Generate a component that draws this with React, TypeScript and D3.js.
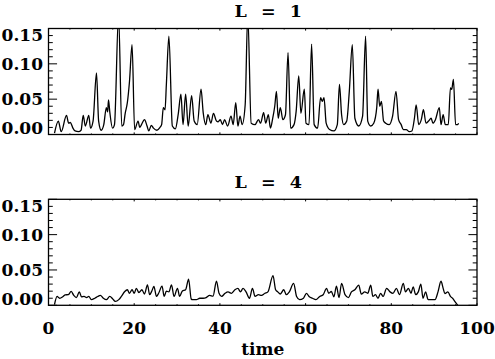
import React from "react";
import * as d3 from "d3";

const W = 495;
const H = 359;

// L = 1 series
const timeL1 = [1.4, 2.3, 2.96, 4.2, 4.7, 5.1, 5.7, 6.2, 7.0, 7.6, 8.1, 8.6, 9.4, 9.8, 10.4, 11.2, 11.7, 12.3, 12.9, 13.5, 13.8, 14.0, 14.3, 14.95, 15.4, 16.35, 17.1, 17.5, 17.9, 18.4, 18.9, 19.5, 20.1, 20.9, 21.3, 21.7, 22.4, 23.0, 23.4, 24.0, 24.5, 25.3, 26.0, 26.4, 26.8, 27.2, 27.5, 28.1, 28.9, 29.6, 30.3, 30.9, 31.4, 32.0, 32.6, 33.4, 34.0, 34.7, 35.6, 36.1, 36.7, 37.2, 37.9, 38.5, 39.2, 39.6, 40.1, 40.6, 41.1, 41.8, 42.6, 43.1, 43.7, 44.2, 44.7, 45.2, 45.9, 46.5, 47.3, 48.2, 49.0, 49.5, 50.2, 50.7, 51.3, 51.8, 52.3, 52.8, 53.2, 53.6, 54.1, 54.7, 55.3, 55.9, 56.5, 57.3, 57.8, 58.4, 58.9, 59.7, 60.1, 60.8, 61.4, 62.0, 62.8, 63.5, 63.9, 64.3, 64.8, 65.6, 66.6, 67.4, 67.9, 68.4, 68.9, 69.6, 70.2, 70.9, 71.5, 72.4, 73.3, 74.0, 74.5, 75.2, 75.9, 76.6, 76.9, 77.3, 77.7, 78.2, 78.7, 79.5, 80.3, 81.1, 81.7, 82.3, 82.8, 83.5, 84.2, 84.8, 85.4, 85.8, 86.4, 87.0, 87.5, 88.1, 88.7, 89.3, 89.7, 90.3, 91.2, 91.6, 92.1, 92.6, 93.3, 93.8, 94.1, 94.5, 95.0, 95.5, 95.7];
const valL1 = [0.002, 0.019, 0.004, 0.027, 0.016, 0.017, 0.009, 0.005, 0.004, 0.006, 0.027, 0.012, 0.027, 0.009, 0.019, 0.087, 0.019, 0.006, 0.014, 0.038, 0.032, 0.049, 0.032, 0.009, 0.014, 0.17, 0.012, 0.014, 0.03, 0.045, 0.075, 0.127, 0.007, 0.019, 0.01, 0.014, 0.021, 0.012, 0.005, 0.013, 0.009, 0.006, 0.01, 0.014, 0.038, 0.035, 0.07, 0.139, 0.012, 0.008, 0.03, 0.057, 0.014, 0.057, 0.012, 0.055, 0.019, 0.014, 0.064, 0.031, 0.014, 0.028, 0.016, 0.03, 0.019, 0.018, 0.021, 0.014, 0.021, 0.012, 0.026, 0.014, 0.045, 0.012, 0.026, 0.014, 0.042, 0.17, 0.016, 0.014, 0.021, 0.016, 0.031, 0.016, 0.028, 0.009, 0.022, 0.04, 0.061, 0.023, 0.038, 0.021, 0.028, 0.116, 0.009, 0.014, 0.033, 0.083, 0.03, 0.064, 0.016, 0.014, 0.128, 0.014, 0.009, 0.052, 0.047, 0.052, 0.016, 0.007, 0.005, 0.014, 0.071, 0.028, 0.014, 0.019, 0.061, 0.127, 0.023, 0.012, 0.026, 0.139, 0.019, 0.012, 0.016, 0.038, 0.064, 0.04, 0.047, 0.019, 0.016, 0.014, 0.026, 0.061, 0.021, 0.014, 0.007, 0.007, 0.004, 0.005, 0.023, 0.042, 0.014, 0.021, 0.035, 0.016, 0.019, 0.023, 0.016, 0.021, 0.038, 0.014, 0.028, 0.014, 0.014, 0.066, 0.064, 0.078, 0.014, 0.014, 0.016];

// L = 4 series
const timeL4 = [1.4, 2.0, 2.6, 3.4, 3.9, 4.6, 5.3, 5.9, 6.5, 7.2, 7.7, 8.3, 8.9, 9.4, 10.0, 10.8, 11.5, 12.1, 12.8, 13.5, 14.3, 15.0, 15.6, 16.4, 17.0, 17.8, 18.4, 18.9, 19.5, 20.0, 20.5, 21.1, 21.8, 22.4, 23.1, 23.6, 24.1, 24.6, 25.2, 25.7, 26.5, 27.0, 27.5, 28.1, 28.7, 29.3, 30.1, 30.6, 31.2, 32.0, 32.7, 33.3, 33.6, 34.5, 35.3, 36.1, 36.8, 37.6, 38.4, 39.2, 39.8, 40.4, 41.2, 41.9, 42.7, 43.5, 44.2, 44.8, 45.4, 46.1, 46.9, 47.6, 48.2, 49.0, 49.7, 50.5, 51.2, 52.4, 53.0, 53.5, 54.1, 54.9, 55.5, 56.2, 57.2, 57.9, 58.6, 59.5, 60.2, 60.8, 61.6, 62.4, 63.3, 64.1, 64.9, 65.4, 66.0, 66.6, 67.2, 67.8, 68.4, 69.2, 70.0, 70.7, 71.5, 72.4, 73.0, 73.8, 74.5, 75.2, 75.7, 76.3, 76.9, 77.5, 78.1, 78.9, 79.7, 80.4, 81.2, 81.9, 82.8, 83.3, 84.0, 84.6, 85.1, 85.7, 86.3, 86.9, 87.4, 88.0, 88.6, 89.4, 90.2, 90.9, 91.6, 92.1, 92.5, 93.2, 93.8, 94.3, 94.9, 95.5];
const valL4 = [0.001, 0.0125, 0.01, 0.0125, 0.0148, 0.015, 0.0196, 0.014, 0.011, 0.019, 0.012, 0.0125, 0.011, 0.0125, 0.008, 0.01, 0.0125, 0.014, 0.01, 0.008, 0.0125, 0.009, 0.0055, 0.008, 0.0125, 0.0196, 0.022, 0.017, 0.022, 0.017, 0.024, 0.018, 0.022, 0.016, 0.029, 0.015, 0.02, 0.0267, 0.0125, 0.017, 0.027, 0.0125, 0.02, 0.019, 0.029, 0.0125, 0.024, 0.0125, 0.02, 0.022, 0.037, 0.009, 0.008, 0.008, 0.01, 0.01, 0.011, 0.014, 0.013, 0.034, 0.017, 0.0125, 0.017, 0.019, 0.017, 0.022, 0.024, 0.019, 0.024, 0.019, 0.01, 0.024, 0.0125, 0.015, 0.014, 0.017, 0.019, 0.042, 0.022, 0.019, 0.016, 0.022, 0.015, 0.019, 0.031, 0.0125, 0.008, 0.01, 0.017, 0.0125, 0.01, 0.008, 0.0125, 0.015, 0.024, 0.017, 0.0195, 0.012, 0.027, 0.011, 0.031, 0.015, 0.011, 0.019, 0.022, 0.0285, 0.016, 0.019, 0.017, 0.0285, 0.0125, 0.015, 0.01, 0.017, 0.0125, 0.024, 0.019, 0.017, 0.024, 0.015, 0.031, 0.019, 0.024, 0.017, 0.026, 0.015, 0.019, 0.03, 0.01, 0.019, 0.008, 0.008, 0.008, 0.019, 0.034, 0.024, 0.0165, 0.019, 0.0125, 0.01, 0.005, 0.0];

const xMajorTicks = [0, 20, 40, 60, 80, 100];
const yMajorTicks = [0.0, 0.05, 0.1, 0.15];
const yTickLabels = ["0.00", "0.05", "0.10", "0.15"];
const xTickLabels = ["0", "20", "40", "60", "80", "100"];
const panelTitles = ["L = 1", "L = 4"];

const LEFT = 48.5;
const RIGHT = 477;
const PANEL_H = 106;
const panelTops = [28.5, 199.3];
const FONT = "'DejaVu Serif', serif";

function Panel({ top, times, vals, title, showX, idx }: any) {
  const x = d3.scaleLinear().domain([0, 100]).range([LEFT, RIGHT]);
  const y = d3.scaleLinear().domain([0, 0.15]).range([top + PANEL_H, top]);
  const pts = times.map((t: number, i: number) => [t, vals[i]] as [number, number]);
  const line = d3
    .line<[number, number]>()
    .x((d) => x(d[0]))
    .y((d) => y(d[1]))
    .curve(d3.curveMonotoneX);
  const xMinor = d3.range(0, 101, 5);
  const yMinor = d3.range(0, 0.1501, 0.01);
  const plotW = RIGHT - LEFT;
  const yMajLen = 0.02 * plotW;
  const xMajLen = 0.02 * PANEL_H;
  const clipId = `clip${idx}`;
  return (
    <g>
      <defs>
        <clipPath id={clipId}>
          <rect x={LEFT} y={top} width={plotW} height={PANEL_H} />
        </clipPath>
      </defs>
      <path d={line(pts) || ""} fill="none" stroke="#000" strokeWidth={1.3} clipPath={`url(#${clipId})`} strokeLinejoin="round" />
      <rect x={LEFT} y={top} width={plotW} height={PANEL_H} fill="none" stroke="#000" strokeWidth={1.3} />
      {xMinor.map((t: number) => {
        const major = t % 20 === 0;
        const len = major ? xMajLen : xMajLen / 2;
        return (
          <g key={"x" + t}>
            <line x1={x(t)} x2={x(t)} y1={top + PANEL_H} y2={top + PANEL_H - len} stroke="#000" strokeWidth={1} />
            <line x1={x(t)} x2={x(t)} y1={top} y2={top + len} stroke="#000" strokeWidth={1} />
          </g>
        );
      })}
      {yMinor.map((v: number, i: number) => {
        const major = i % 5 === 0;
        const len = major ? yMajLen : yMajLen / 2;
        return (
          <g key={"y" + i}>
            <line x1={LEFT} x2={LEFT + len} y1={y(v)} y2={y(v)} stroke="#000" strokeWidth={1} />
            <line x1={RIGHT} x2={RIGHT - len} y1={y(v)} y2={y(v)} stroke="#000" strokeWidth={1} />
          </g>
        );
      })}
      {yMajorTicks.map((v: number, i: number) => {
        let base = y(v) + 6;
        if (i === 0) base = top + PANEL_H - 0.5;
        if (i === yMajorTicks.length - 1) base = top + 12.5;
        return (
          <text key={"yl" + i} x={43} y={base} textAnchor="end" fontFamily={FONT} fontWeight="bold" fontSize={17} fill="#000">
            {yTickLabels[i]}
          </text>
        );
      })}
      {showX &&
        xMajorTicks.map((t: number, i: number) => (
          <text key={"xl" + i} x={x(t)} y={333.5} textAnchor="middle" fontFamily={FONT} fontWeight="bold" fontSize={17} fill="#000">
            {xTickLabels[i]}
          </text>
        ))}
      <text x={234.5} y={top - 11.5} textLength={67.5} lengthAdjust="spacing" fontFamily={FONT} fontWeight="bold" fontSize={17.5} fill="#000" style={{ whiteSpace: "pre" }}>
        {title}
      </text>
    </g>
  );
}

export default function App() {
  return (
    <svg width={W} height={H} style={{ position: "absolute", left: 0, top: 0, background: "#fff" }}>
      <rect x={0} y={0} width={W} height={H} fill="#fff" />
      <Panel idx={0} top={panelTops[0]} times={timeL1} vals={valL1} title={panelTitles[0]} showX={false} />
      <Panel idx={1} top={panelTops[1]} times={timeL4} vals={valL4} title={panelTitles[1]} showX={true} />
      <text x={(LEFT + RIGHT) / 2} y={355} textAnchor="middle" fontFamily={FONT} fontWeight="bold" fontSize={17} fill="#000">
        time
      </text>
    </svg>
  );
}
